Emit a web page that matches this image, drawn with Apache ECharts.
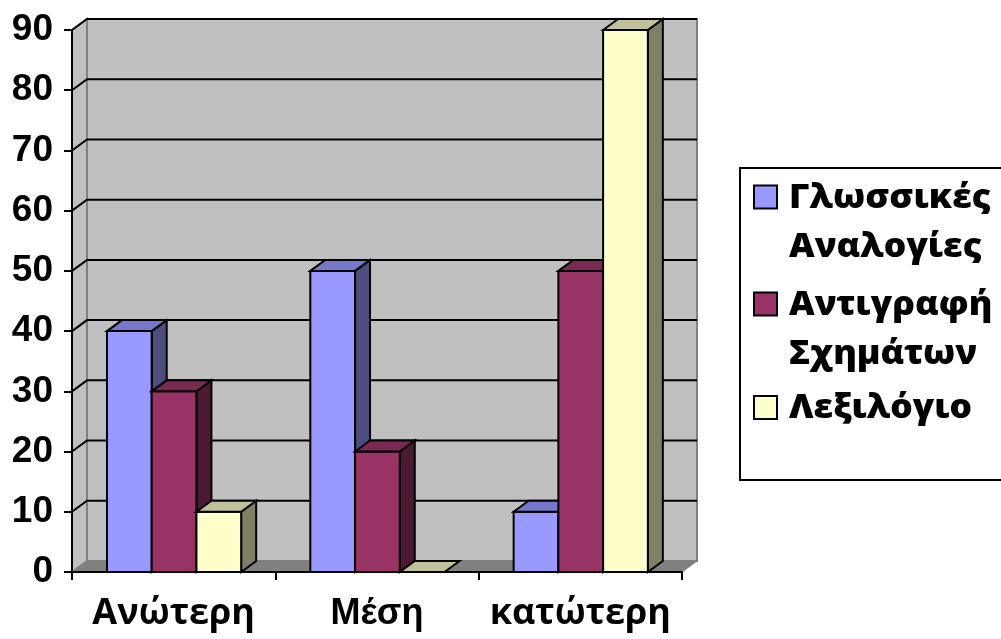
<!DOCTYPE html>
<html>
<head>
<meta charset="utf-8">
<script src="https://cdn.jsdelivr.net/npm/echarts@6/dist/echarts.min.js"></script>
<style>
  html, body { margin: 0; padding: 0; background: #fff; }
  #chart { width: 1001px; height: 639px; }
</style>
</head>
<body>
<div id="chart"></div>
<script>
// Categories and series values
const categories = ['Ανώτερη', 'Μέση', 'κατώτερη'];
const seriesNames = ['Γλωσσικές\nΑναλογίες', 'Αντιγραφή\nΣχημάτων', 'Λεξιλόγιο'];
const analogies = [40, 50, 10];
const shapes = [30, 20, 50];
const vocabulary = [10, 0, 90];
const yTicks = [0, 10, 20, 30, 40, 50, 60, 70, 80, 90];

// Face colours per series: front, top, side
const palettes = [
  { front: '#9999FF', top: '#7777CC', side: '#4D4D80' },
  { front: '#993366', top: '#7A2952', side: '#4D1A33' },
  { front: '#FFFFCC', top: '#C0C09A', side: '#808066' }
];

// Oblique depth of the 3D box
const DX = 15, DY = -11;
const BAR_OFFSET = 0.172;   // gap before the first bar, fraction of band
const BAR_WIDTH = 0.2200;   // bar width, fraction of band

const chart = echarts.init(document.getElementById('chart'), null, { renderer: 'canvas' });

// Back wall, side wall and floor
function renderWalls(params, api) {
  const cs = params.coordSys;
  const x0 = cs.x, x1 = cs.x + cs.width;
  const yTop = api.coord([0, yTicks[yTicks.length - 1]])[1];
  const yBase = api.coord([0, 0])[1];
  return {
    type: 'group',
    children: [
      { type: 'polygon', shape: { points: [[x0 + DX, yTop + DY], [x1 + DX, yTop + DY], [x1 + DX, yBase + DY], [x0 + DX, yBase + DY]] },
        style: { fill: '#C0C0C0', stroke: '#808080', lineWidth: 2 } },
      { type: 'polygon', shape: { points: [[x0, yTop], [x0 + DX, yTop + DY], [x0 + DX, yBase + DY], [x0, yBase]] },
        style: { fill: '#C0C0C0', stroke: '#808080', lineWidth: 2 } },
      { type: 'polygon', shape: { points: [[x0, yBase], [x0 + DX, yBase + DY], [x1 + DX, yBase + DY], [x1, yBase]] },
        style: { fill: '#808080', stroke: '#808080', lineWidth: 1 } }
    ]
  };
}

// Gridlines on the back wall with their diagonal run across the side wall
function renderGridLine(params, api) {
  const cs = params.coordSys;
  const v = api.value(0);
  const y = api.coord([0, v])[1];
  const x0 = cs.x, x1 = cs.x + cs.width;
  if (v === 0) return { type: 'group', children: [] };
  return {
    type: 'polyline',
    shape: { points: [[x0, y], [x0 + DX, y + DY], [x1 + DX, y + DY]] },
    style: { stroke: '#000', lineWidth: 2, fill: null }
  };
}

function makeBarRenderer(seriesIdx) {
  const pal = palettes[seriesIdx];
  return function (params, api) {
    const cat = api.value(0);
    const val = api.value(1);
    const band = api.size([1, 0])[0];
    const c = api.coord([cat, 0]);
    const yBase = c[1];
    const yTop = api.coord([cat, val])[1];
    const w = band * BAR_WIDTH;
    const x = c[0] - band / 2 + band * BAR_OFFSET + seriesIdx * w;
    const stroke = { stroke: '#000', lineWidth: 2, lineJoin: 'miter' };
    const children = [];
    if (val > 0) {
      children.push({ type: 'polygon', shape: { points: [[x + w, yBase], [x + w, yTop], [x + w + DX, yTop + DY], [x + w + DX, yBase + DY]] },
        style: Object.assign({ fill: pal.side }, stroke) });
      children.push({ type: 'rect', shape: { x: x, y: yTop, width: w, height: yBase - yTop },
        style: Object.assign({ fill: pal.front }, stroke) });
    }
    children.push({ type: 'polygon', shape: { points: [[x, yTop], [x + DX, yTop + DY], [x + w + DX, yTop + DY], [x + w, yTop]] },
      style: Object.assign({ fill: pal.top }, stroke) });
    return { type: 'group', children: children };
  };
}

const valueSets = [analogies, shapes, vocabulary];

const barSeries = valueSets.map((vals, i) => ({
  type: 'custom',
  name: seriesNames[i],
  renderItem: makeBarRenderer(i),
  data: vals.map((v, k) => [k, v]),
  encode: { x: 0, y: 1 },
  itemStyle: { color: palettes[i].front },
  z: 5 + i
}));

// Legend drawn as a framed block with a swatch per series
const LEGEND_LINE = 49;
const legendChildren = [
  { type: 'rect', shape: { x: 740, y: 168, width: 300, height: 312 },
    style: { fill: '#fff', stroke: '#000', lineWidth: 2 } }
];
const legendFirstLineCenters = [197, 304, 407.5];
seriesNames.forEach((name, i) => {
  const cy = legendFirstLineCenters[i];
  legendChildren.push({ type: 'rect', shape: { x: 754, y: cy - 11.5, width: 23, height: 23 },
    style: { fill: palettes[i].front, stroke: '#000', lineWidth: 2 } });
  legendChildren.push({ type: 'text', x: 789, y: cy - LEGEND_LINE / 2 + 1, scaleX: 1.04,
    style: { text: name, font: '800 34px "Open Sans"', fill: '#000', lineHeight: LEGEND_LINE,
             verticalAlign: 'top', align: 'left' } });
});

const option = {
  animation: false,
  backgroundColor: '#fff',
  grid: { left: 72, right: 319, top: 30, bottom: 67 },
  xAxis: {
    type: 'category',
    data: categories,
    boundaryGap: true,
    z: 20,
    axisLine: { show: true, lineStyle: { color: '#000', width: 2 } },
    axisTick: { show: true, length: 8, lineStyle: { color: '#000', width: 2 } },
    axisLabel: {
      margin: 24,
      formatter: (v) => (v === 'Μέση' ? '{arial|' + v + '}' : '{sans|' + v + '}'),
      rich: {
        sans: { fontFamily: 'Open Sans', fontWeight: 'bold', fontSize: 36, color: '#000' },
        arial: { fontFamily: 'Liberation Sans', fontWeight: 'bold', fontSize: 36, color: '#000' }
      }
    },
    splitLine: { show: false }
  },
  yAxis: {
    type: 'value',
    min: 0, max: 90, interval: 10,
    z: 20,
    axisLine: { show: true, lineStyle: { color: '#000', width: 2 } },
    axisTick: { show: true, length: 8, lineStyle: { color: '#000', width: 2 } },
    axisLabel: { margin: 19, fontFamily: 'Liberation Sans', fontWeight: 'bold', fontSize: 37, color: '#000' },
    splitLine: { show: false }
  },
  series: [
    { type: 'custom', name: 'walls', renderItem: renderWalls, data: [[0, 0]], encode: { x: 0, y: 1 }, z: 1, silent: true },
    { type: 'custom', name: 'grid', renderItem: renderGridLine, data: yTicks.map(v => [v]), encode: { y: 0 }, z: 2, silent: true },
    ...barSeries
  ],
  graphic: legendChildren
};

chart.setOption(option);
</script>
</body>
</html>
